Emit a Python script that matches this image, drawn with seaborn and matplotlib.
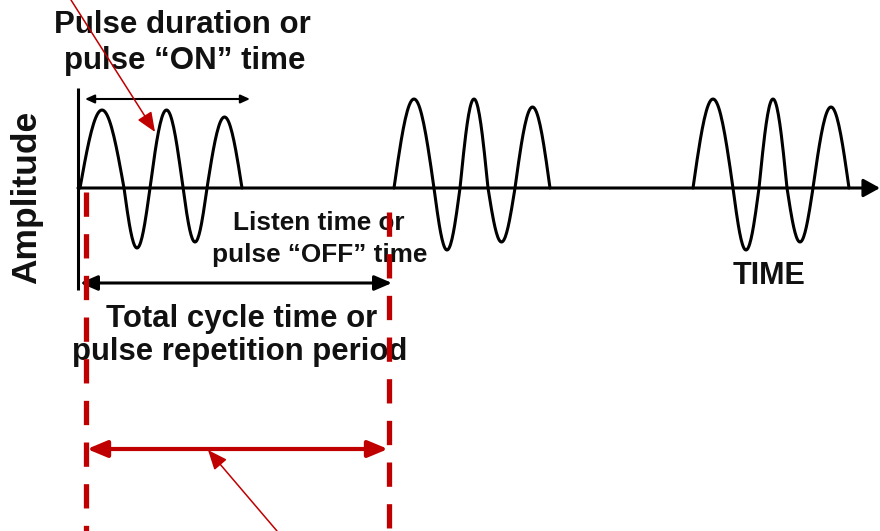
import numpy as np
import pandas as pd
import matplotlib
matplotlib.use("Agg")
import matplotlib.pyplot as plt
import seaborn as sns

# ---------------- data (diagram units = pixels of the 880x531 canvas) ----------------
PULSE_NAMES = ["pulse 1", "pulse 2", "pulse 3"]
# zero crossings of each pulse (time axis)
PULSE_CROSSINGS = [
    [80, 124, 150, 183, 207, 242],
    [394, 434, 460, 488, 515, 550],
    [693, 733, 759, 787, 813, 849],
]
# extreme of every half wave (positive = up)
PULSE_PEAKS = [
    [78, -60, 78, -54, 71],
    [89, -62, 89, -54, 81],
    [89, -62, 89, -54, 81],
]
BASELINE = 188
CYCLE_MARKERS = [86, 389]          # red dashed verticals (start / end of one cycle)
ON_SPAN = [85, 250]                # pulse "ON" arrow
TOTAL_SPAN = [80, 392]             # total cycle arrow
RED_SPAN = [87, 388]               # red repeated period arrow

TITLE_LINES = ["Pulse duration or", "pulse \u201cON\u201d time"]
OFF_LINES = ["Listen time or", "pulse \u201cOFF\u201d time"]
TOTAL_LINES = ["Total cycle time or", "pulse repetition period"]
Y_LABEL = "Amplitude"
X_LABEL = "TIME"

RED = "#C00000"

# ---------------- build waveform table ----------------
rows = []
for name, cr, pk in zip(PULSE_NAMES, PULSE_CROSSINGS, PULSE_PEAKS):
    for i, amp in enumerate(pk):
        a, b = cr[i], cr[i + 1]
        s = np.linspace(0, 1, 40)
        xs = a + (b - a) * s
        ys = BASELINE - amp * np.sin(np.pi * s)
        for xx, yy in zip(xs, ys):
            rows.append({"pulse": name, "t": xx, "amp": yy})
wave = pd.DataFrame(rows)

dash_df = pd.DataFrame({
    "marker": ["L", "L", "R", "R"],
    "t": [CYCLE_MARKERS[0], CYCLE_MARKERS[0], CYCLE_MARKERS[1], CYCLE_MARKERS[1]],
    "amp": [192, 531, 212, 531],
})

# ---------------- figure ----------------
sns.set_theme(style="white")
plt.rcParams["font.family"] = ["Liberation Sans", "DejaVu Sans"]
plt.rcParams["lines.scale_dashes"] = False

fig = plt.figure(figsize=(8.8, 5.31), dpi=100)
ax = fig.add_axes([0, 0, 1, 1])
ax.set_xlim(0, 880)
ax.set_ylim(531, 0)
ax.axis("off")

# waveform
sns.lineplot(data=wave, x="t", y="amp", units="pulse", estimator=None, sort=False,
             color="black", linewidth=2.2, ax=ax, legend=False)

# axes of the diagram
ax.plot([78, 78], [88, 290], color="black", lw=2.2, solid_capstyle="butt")
ax.annotate("", xy=(880, BASELINE), xytext=(78, BASELINE),
            arrowprops=dict(arrowstyle="-|>,head_length=1.0,head_width=0.55",
                            mutation_scale=10, color="black", lw=2.2,
                            shrinkA=0, shrinkB=0))

# red dashed cycle markers (drawn on top of text, as in the original)
n_before = len(ax.lines)
for key, dfk in dash_df.groupby("marker"):
    sns.lineplot(data=dfk, x="t", y="amp", estimator=None, sort=False, color=RED,
                 linewidth=3.8, ax=ax, legend=False)
for ln in ax.lines[n_before:]:
    ln.set_linestyle((0, (17.5, 12.5)))
    ln.set_dash_capstyle("butt")
    ln.set_zorder(10)

# pulse ON arrow
ax.annotate("", xy=(ON_SPAN[1], 99), xytext=(ON_SPAN[0], 99),
            arrowprops=dict(arrowstyle="<|-|>,head_length=0.55,head_width=0.25",
                            mutation_scale=10, color="black", lw=1.5,
                            shrinkA=0, shrinkB=0))
# total cycle arrow
ax.annotate("", xy=(TOTAL_SPAN[1], 283), xytext=(TOTAL_SPAN[0], 283),
            arrowprops=dict(arrowstyle="<|-|>,head_length=1.05,head_width=0.45",
                            mutation_scale=10, color="black", lw=2.2,
                            shrinkA=0, shrinkB=0))
# red period arrow
ax.annotate("", xy=(RED_SPAN[1], 449), xytext=(RED_SPAN[0], 449),
            arrowprops=dict(arrowstyle="<|-|>,head_length=1.2,head_width=0.5",
                            mutation_scale=10, color=RED, lw=3.0,
                            shrinkA=0, shrinkB=0))
# thin red pointer arrows
ax.annotate("", xy=(155, 132), xytext=(71, 0),
            arrowprops=dict(arrowstyle="-|>,head_length=1.2,head_width=0.5",
                            mutation_scale=10, color=RED, lw=1.1,
                            shrinkA=0, shrinkB=0), zorder=11)
ax.annotate("", xy=(208, 450), xytext=(277, 531),
            arrowprops=dict(arrowstyle="-|>,head_length=1.2,head_width=0.5",
                            mutation_scale=10, color=RED, lw=1.1,
                            shrinkA=0, shrinkB=0))

# texts
tk = dict(color="#111111", fontweight="bold", ha="center", va="baseline", zorder=5)
ax.text(182, 33, TITLE_LINES[0], fontsize=22.5, **tk)
ax.text(185, 69, TITLE_LINES[1], fontsize=22.5, **tk)
ax.text(319, 230, OFF_LINES[0], fontsize=18.8, **tk)
ax.text(320, 262, OFF_LINES[1], fontsize=18.8, **tk)
ax.text(242, 327, TOTAL_LINES[0], fontsize=22.4, **tk)
ax.text(240, 360, TOTAL_LINES[1], fontsize=22.4, **tk)
ax.text(769, 284, X_LABEL, fontsize=22, **tk)
ax.text(27, 197, Y_LABEL, fontsize=25.5, color="#111111", fontweight="bold",
        rotation=90, ha="center", va="center")

fig.savefig("out.png", dpi=100, facecolor="white")
